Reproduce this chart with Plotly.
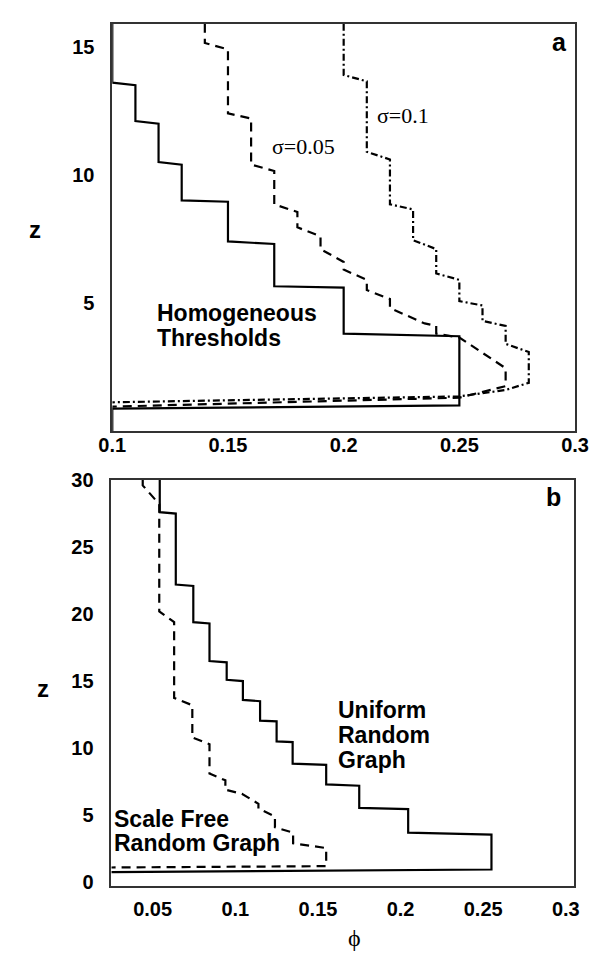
import plotly.graph_objects as go

# ---------------- data ----------------
# Panel a : homogeneous thresholds
phi_a_homog = [0.10, 0.10, 0.11, 0.11, 0.12, 0.12, 0.13, 0.13, 0.15, 0.15, 0.17, 0.17,
               0.20, 0.20, 0.25, 0.25, 0.10, 0.10]
z_a_homog = [15.9, 13.6, 13.5, 12.1, 12.0, 10.5, 10.4, 9.0, 8.95, 7.4, 7.3, 5.65,
             5.6, 3.8, 3.7, 1.0, 0.87, 0.0]

phi_a_s005 = [0.14, 0.14, 0.15, 0.15, 0.16, 0.16, 0.17, 0.17, 0.18, 0.18, 0.19, 0.19,
              0.20, 0.20, 0.21, 0.21, 0.22, 0.22, 0.235, 0.24, 0.24, 0.25, 0.27, 0.27,
              0.25, 0.10]
z_a_s005 = [15.9, 15.15, 14.9, 12.4, 12.2, 10.4, 10.15, 8.85, 8.55, 7.95, 7.6, 7.1,
            6.6, 6.3, 5.9, 5.5, 5.15, 4.8, 4.2, 4.1, 3.8, 3.65, 2.45, 1.75,
            1.3, 0.95]

phi_a_s01 = [0.20, 0.20, 0.21, 0.21, 0.22, 0.22, 0.23, 0.23, 0.24, 0.24, 0.25, 0.25,
             0.26, 0.26, 0.27, 0.27, 0.28, 0.28, 0.27, 0.25, 0.10]
z_a_s01 = [15.9, 13.9, 13.65, 10.9, 10.6, 8.85, 8.65, 7.45, 7.1, 6.15, 5.9, 5.07,
           4.9, 4.3, 4.1, 3.4, 3.08, 1.88, 1.6, 1.35, 1.12]

# Panel b : random graphs
phi_b_uniform = [0.0543, 0.0543, 0.064, 0.064, 0.0746, 0.0746, 0.0844, 0.0844, 0.0948,
                 0.0948, 0.1046, 0.1046, 0.115, 0.115, 0.125, 0.125, 0.1347, 0.1347,
                 0.155, 0.155, 0.175, 0.175, 0.2046, 0.2046, 0.255, 0.255, 0.025]
z_b_uniform = [30.0, 27.6, 27.5, 22.2, 22.1, 19.4, 19.3, 16.5, 16.4,
               15.1, 15.0, 13.6, 13.5, 12.05, 12.0, 10.5, 10.45, 8.85,
               8.75, 7.3, 7.2, 5.55, 5.45, 3.7, 3.55, 0.95, 0.75]

phi_b_scalefree = [0.044, 0.044, 0.054, 0.054, 0.063, 0.063, 0.074, 0.074, 0.0844, 0.0844,
                   0.094, 0.094, 0.104, 0.114, 0.114, 0.124, 0.124, 0.135, 0.135, 0.15,
                   0.155, 0.155, 0.025]
z_b_scalefree = [30.0, 29.6, 28.2, 20.2, 19.4, 13.75, 13.2, 10.8, 10.3, 8.1,
                 7.6, 6.9, 6.6, 5.85, 5.5, 4.9, 4.1, 3.7, 2.9, 2.6,
                 2.55, 1.2, 1.1]

xticks_a = [0.1, 0.15, 0.2, 0.25, 0.3]
xticklabels_a = ["0.1", "0.15", "0.2", "0.25", "0.3"]
yticks_a = [5, 10, 15]
xticks_b = [0.05, 0.1, 0.15, 0.2, 0.25, 0.3]
xticklabels_b = ["0.05", "0.1", "0.15", "0.2", "0.25", "0.3"]
yticks_b = [0, 5, 10, 15, 20, 25, 30]

# ---------------- figure ----------------
W, H = 611, 959
SANS = "Liberation Sans, Arial, sans-serif"
SERIF = "Liberation Serif, Times New Roman, serif"
LINE = dict(color="black", width=2.2)

fig = go.Figure()
fig.add_trace(go.Scatter(x=phi_a_homog, y=z_a_homog, mode="lines", line=LINE,
                         xaxis="x", yaxis="y", showlegend=False))
fig.add_trace(go.Scatter(x=phi_a_s005, y=z_a_s005, mode="lines",
                         line=dict(color="black", width=2.2, dash="9px,6px"),
                         xaxis="x", yaxis="y", showlegend=False))
fig.add_trace(go.Scatter(x=phi_a_s01, y=z_a_s01, mode="lines",
                         line=dict(color="black", width=2.2, dash="7px,3px,2px,3px"),
                         xaxis="x", yaxis="y", showlegend=False))
fig.add_trace(go.Scatter(x=phi_b_uniform, y=z_b_uniform, mode="lines", line=LINE,
                         xaxis="x2", yaxis="y2", showlegend=False))
fig.add_trace(go.Scatter(x=phi_b_scalefree, y=z_b_scalefree, mode="lines",
                         line=dict(color="black", width=2.2, dash="9px,6px"),
                         xaxis="x2", yaxis="y2", showlegend=False))

tickfont = dict(family=SANS, size=20, color="black", weight="bold")
axis_common = dict(showline=True, linecolor="#333333", linewidth=1.6, mirror=True,
                   ticks="", showgrid=False, zeroline=False, tickfont=tickfont)

fig.update_layout(
    width=W, height=H,
    margin=dict(l=0, r=0, t=0, b=0),
    paper_bgcolor="white", plot_bgcolor="white",
    xaxis=dict(axis_common, domain=[103 / W, 588 / W], range=[0.1, 0.3],
               tickvals=xticks_a, ticktext=xticklabels_a, anchor="y",
               ticklabelstandoff=-5),
    yaxis=dict(axis_common, domain=[1 - 428 / H, 1 - 13 / H], range=[0, 15.9],
               tickvals=yticks_a, anchor="x", ticklabelstandoff=12),
    xaxis2=dict(axis_common, domain=[102 / W, 587 / W], range=[0.025, 0.305],
                tickvals=xticks_b, ticktext=xticklabels_b, anchor="y2",
                ticklabelstandoff=4),
    yaxis2=dict(axis_common, domain=[1 - 892 / H, 1 - 478 / H], range=[-0.3, 30],
                tickvals=yticks_b, anchor="x2", ticklabelstandoff=12),
)

bold23 = dict(family=SANS, size=23, color="black", weight="bold")
serif22 = dict(family=SERIF, size=22, color="black")

ann = []
# panel a texts
ann.append(dict(x=0.168, y=11.1, xref="x", yref="y", text="σ=0.05", font=serif22,
                xanchor="left", yanchor="middle", showarrow=False))
ann.append(dict(x=0.2134, y=12.3, xref="x", yref="y", text="σ=0.1", font=serif22,
                xanchor="left", yanchor="middle", showarrow=False))
ann.append(dict(x=0.1186, y=4.6, xref="x", yref="y", text="Homogeneous", font=bold23,
                xanchor="left", yanchor="middle", showarrow=False))
ann.append(dict(x=0.1186, y=3.63, xref="x", yref="y", text="Thresholds", font=bold23,
                xanchor="left", yanchor="middle", showarrow=False))
ann.append(dict(x=0.2934, y=15.2, xref="x", yref="y", text="a",
                font=dict(family=SANS, size=25, color="black", weight="bold"),
                xanchor="center", yanchor="middle", showarrow=False))
# panel b texts
for txt, zz in [("Uniform", 12.85), ("Random", 11.0), ("Graph", 9.15)]:
    ann.append(dict(x=0.161, y=zz, xref="x2", yref="y2", text=txt, font=bold23,
                    xanchor="left", yanchor="middle", showarrow=False))
for txt, zz in [("Scale Free", 4.75), ("Random Graph", 2.9)]:
    ann.append(dict(x=0.0254, y=zz, xref="x2", yref="y2", text=txt, font=bold23,
                    xanchor="left", yanchor="middle", showarrow=False))
ann.append(dict(x=0.2925, y=28.7, xref="x2", yref="y2", text="b",
                font=dict(family=SANS, size=25, color="black", weight="bold"),
                xanchor="center", yanchor="middle", showarrow=False))
# axis titles
ann.append(dict(x=22 / W, y=1 - 223 / H, xref="paper", yref="paper", text="z",
                font=dict(family=SANS, size=24, color="black", weight="bold"),
                xanchor="center", yanchor="middle", showarrow=False))
ann.append(dict(x=30 / W, y=1 - 690 / H, xref="paper", yref="paper", text="z",
                font=dict(family=SANS, size=24, color="black", weight="bold"),
                xanchor="center", yanchor="middle", showarrow=False))
ann.append(dict(x=357 / W, y=1 - 945 / H, xref="paper", yref="paper", text="ϕ",
                font=dict(family=SERIF, size=24, color="black"),
                xanchor="center", yanchor="middle", showarrow=False))
fig.update_layout(annotations=ann)

fig.write_html("out.html")
